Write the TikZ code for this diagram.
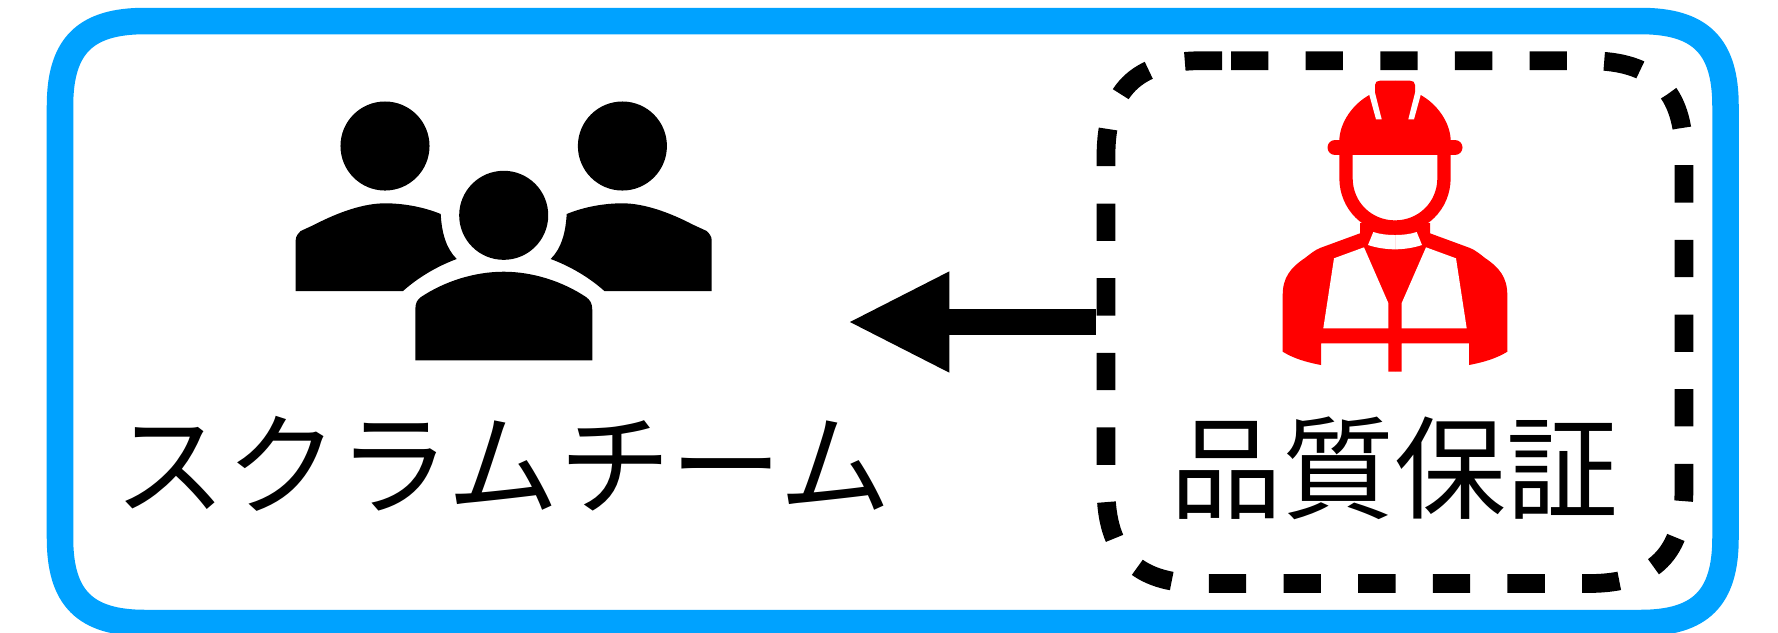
\documentclass[tikz,border=0pt]{standalone}
\usepackage{fontspec}
\setmainfont{Noto Sans CJK JP}
\usetikzlibrary{arrows.meta}
\definecolor{teamblue}{HTML}{00A2FF}
\begin{document}
\begin{tikzpicture}[x=0.01cm,y=-0.01cm,
   label/.style={font=\fontsize{31.8pt}{36pt}\selectfont,inner sep=0pt},
   qadash/.style={line width=0.187cm,dash pattern=on 0.373cm off 0.373cm},
   vest/.style={fill=red,draw=none}]
   \clip (0,0) rectangle (1778,632);
   \fill[white] (0,0) rectangle (1778,632);
   \draw[teamblue,line width=0.265cm] (145,21) -- (1640.5,21) .. controls (1700.5,21) and (1725.5,46) .. (1725.5,106) -- (1725.5,538) .. controls (1725.5,598) and (1700.5,623) .. (1640.5,623) -- (145,623) .. controls (85,623) and (60,598) .. (60,538) -- (60,106) .. controls (60,46) and (85,21) .. (145,21) -- cycle;
   \node[inner sep=0pt,outer sep=0pt,minimum width=5.78cm,minimum height=5.228cm] (qabox) at (1395,322) {};
   \draw[qadash] (1231,60.7) -- (1589,60.7) .. controls (1654,60.7) and (1684,90.7) .. (1684,155.7) -- (1684,488.5) .. controls (1684,553.5) and (1654,583.5) .. (1589,583.5) -- (1201,583.5) .. controls (1136,583.5) and (1106,553.5) .. (1106,488.5) -- (1106,155.7) .. controls (1106,90.7) and (1136,60.7) .. (1201,60.7) -- (1223.5,60.7);
   \coordinate (tip) at (847.3,322);
   \draw[-{Triangle[length=1.02cm,width=0.93cm]},line width=0.263cm,shorten <=0.103cm] (qabox.west) -- (tip);
   \node[label] (team) at (503,464) {スクラムチーム};
   \node[label] (qa) at (1394.5,468) {品質保証};
   \foreach \sx in {-1,1} {
	 \begin{scope}[shift={(503.7,0)},xscale=\sx]
	  \fill (-118.7,146) circle (0.445cm);
	  \fill (-208,291) -- (-208,240) .. controls (-208,236) and (-205,233) .. (-203,231) -- (-190,225) .. controls (-165,212) and (-140,203.3) .. (-118.7,203.3) .. controls (-100,203.3) and (-80,207) .. (-63,214) .. controls (-62,232) and (-58,248) .. (-47,259) .. controls (-66,266) and (-85,277) .. (-100.7,291) -- cycle;
	 \end{scope}
	 \begin{scope}[shift={(1395,0)},xscale=\sx]
	  \fill[red] (0,150) -- (-55.7,150) -- (-55.7,140) .. controls (-55,122) and (-42,104) .. (-25.7,95) -- (-20,93) -- (-20,85) .. controls (-20,82) and (-18,80.7) .. (-15,80.7) -- (0,80.7) -- cycle;
	  \fill[white] (-26.5,92) -- (-20.2,92) -- (-13.3,119.3) -- (-19,119.3) -- cycle;
	  \draw[red,line width=0.133cm] (-49,150) -- (-49,178) .. controls (-49,206) and (-27,227) .. (0,227);
	  \fill[vest] (0,371.7) -- (-6.7,371.7) -- (-6.7,343.3) -- (-74,343.3) -- (-74,365) .. controls (-90,362) and (-102,358) .. (-112.3,351.7) -- (-112.3,295) .. controls (-112.3,278) and (-105,268) .. (-90,258) .. controls (-85,254) and (-80,250) .. (-75,248) -- (-35,233.3) -- (-35,223) -- (0,223) -- cycle;
	  \fill[white] (-61,258.3) -- (-31,247.3) -- (-6.7,303) -- (-6.7,328.3) -- (-71.7,328.3) -- cycle;
	  \fill[white] (0,235) .. controls (-8,235) and (-16,234) .. (-21.7,232) -- (-27,245) .. controls (-18,248) and (-8,249.3) .. (0,249.3) -- cycle;
	 \end{scope}
   }
   \draw[red,line width=0.15cm,line cap=round] (1335,147.5) -- (1455,147.5);
   \fill (503.7,215.3) circle (0.445cm);
   \fill (415.3,360.3) -- (415.3,310) .. controls (415.3,303) and (417,300) .. (421,297) .. controls (445,281) and (475,271.7) .. (503.7,271.7) .. controls (532,271.7) and (562,281) .. (586,297) .. controls (590,300) and (592.3,303) .. (592.3,310) -- (592.3,360.3) -- cycle;
\end{tikzpicture}
\end{document}
